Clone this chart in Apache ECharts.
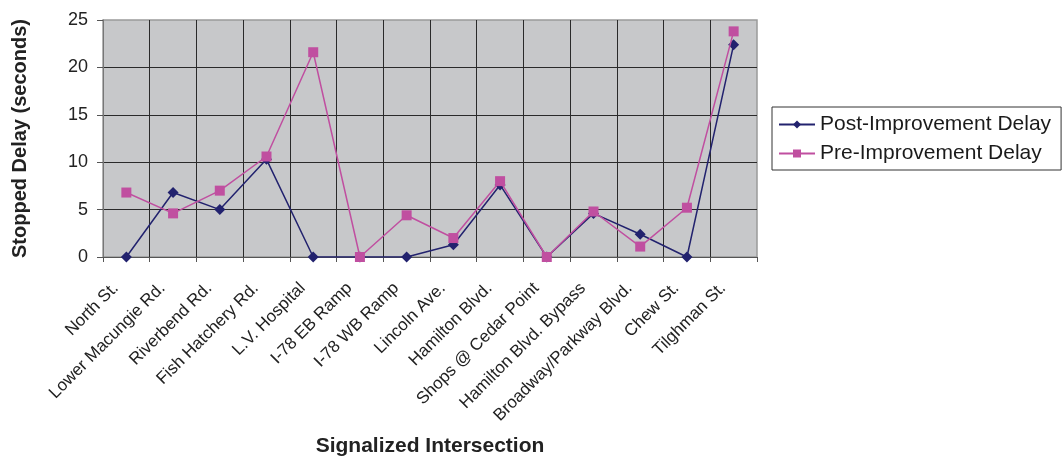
<!DOCTYPE html>
<html>
<head>
<meta charset="utf-8">
<script src="https://cdn.jsdelivr.net/npm/echarts@6/dist/echarts.min.js"></script>
<style>html,body{margin:0;padding:0;background:#fff}#c{width:1063px;height:459px}</style>
</head>
<body>
<div id="c"></div>
<script>
const categories = ["North St.", "Lower Macungie Rd.", "Riverbend Rd.", "Fish Hatchery Rd.", "L.V. Hospital", "I-78 EB Ramp", "I-78 WB Ramp", "Lincoln Ave.", "Hamilton Blvd.", "Shops @ Cedar Point", "Hamilton Blvd. Bypass", "Broadway/Parkway Blvd.", "Chew St.", "Tilghman St."];
const postDelay = [0, 6.8, 5.0, 10.3, 0, 0, 0, 1.3, 7.6, 0, 4.6, 2.4, 0, 22.4];
const preDelay = [6.8, 4.6, 7.0, 10.6, 21.6, 0, 4.4, 2.0, 8.0, 0, 4.8, 1.1, 5.2, 23.8];
const yTicks = [0, 5, 10, 15, 20, 25];

const chart = echarts.init(document.getElementById('c'), null, {renderer: 'canvas'});
const font = 'Liberation Sans, Arial, sans-serif';
chart.setOption({
  animation: false,
  textStyle: {fontFamily: font},
  grid: {left: 103, right: 306, top: 20, bottom: 202, containLabel: false, outerBoundsMode: 'none',
         show: true, backgroundColor: '#c7c8ca', borderColor: '#9a9a9a', borderWidth: 1.5},
  legend: {
    orient: 'vertical', left: 772, top: 107, width: 290,
    padding: [7, 10, 6, 6], itemGap: 8, itemWidth: 36, itemHeight: 10,
    backgroundColor: '#fff', borderColor: '#333', borderWidth: 1,
    textStyle: {fontSize: 21, color: '#1a1a1a', fontFamily: font},
    data: ['Post-Improvement Delay', 'Pre-Improvement Delay']
  },
  xAxis: {
    type: 'category', data: categories, boundaryGap: true,
    name: 'Signalized Intersection', nameLocation: 'middle', nameGap: 179,
    nameTextStyle: {fontSize: 21, fontWeight: 'bold', color: '#222', fontFamily: font},
    axisLine: {lineStyle: {color: '#555', width: 1}},
    axisTick: {show: true, length: 5, inside: false, alignWithLabel: false, lineStyle: {color: '#555'}},
    axisLabel: {rotate: 45, interval: 0, margin: 18, fontSize: 17, color: '#222', fontFamily: font, padding: [0, 15, 0, 0]},
    splitLine: {show: true, interval: 0, showMinLine: false, showMaxLine: false, lineStyle: {color: '#2a2a2a', width: 1}}
  },
  yAxis: {
    type: 'value', min: yTicks[0], max: yTicks[yTicks.length - 1], interval: yTicks[1] - yTicks[0],
    name: 'Stopped Delay (seconds)', nameLocation: 'middle', nameGap: 73,
    nameTextStyle: {fontSize: 20, fontWeight: 'bold', color: '#222', fontFamily: font},
    axisLine: {show: true, lineStyle: {color: '#777', width: 1}},
    axisTick: {show: true, length: 6, inside: false, lineStyle: {color: '#555'}},
    axisLabel: {margin: 15, fontSize: 18, color: '#222', fontFamily: font},
    splitLine: {show: true, showMinLine: false, showMaxLine: false, lineStyle: {color: '#2a2a2a', width: 1}}
  },
  series: [
    {name: 'Post-Improvement Delay', type: 'line', data: postDelay, symbol: 'diamond', symbolSize: 11,
     itemStyle: {color: '#22226e'}, lineStyle: {color: '#22226e', width: 1.5}, z: 3},
    {name: 'Pre-Improvement Delay', type: 'line', data: preDelay, symbol: 'rect', symbolSize: 10,
     itemStyle: {color: '#c04fa0'}, lineStyle: {color: '#c04fa0', width: 1.5}, z: 4}
  ]
});
</script>
</body>
</html>
